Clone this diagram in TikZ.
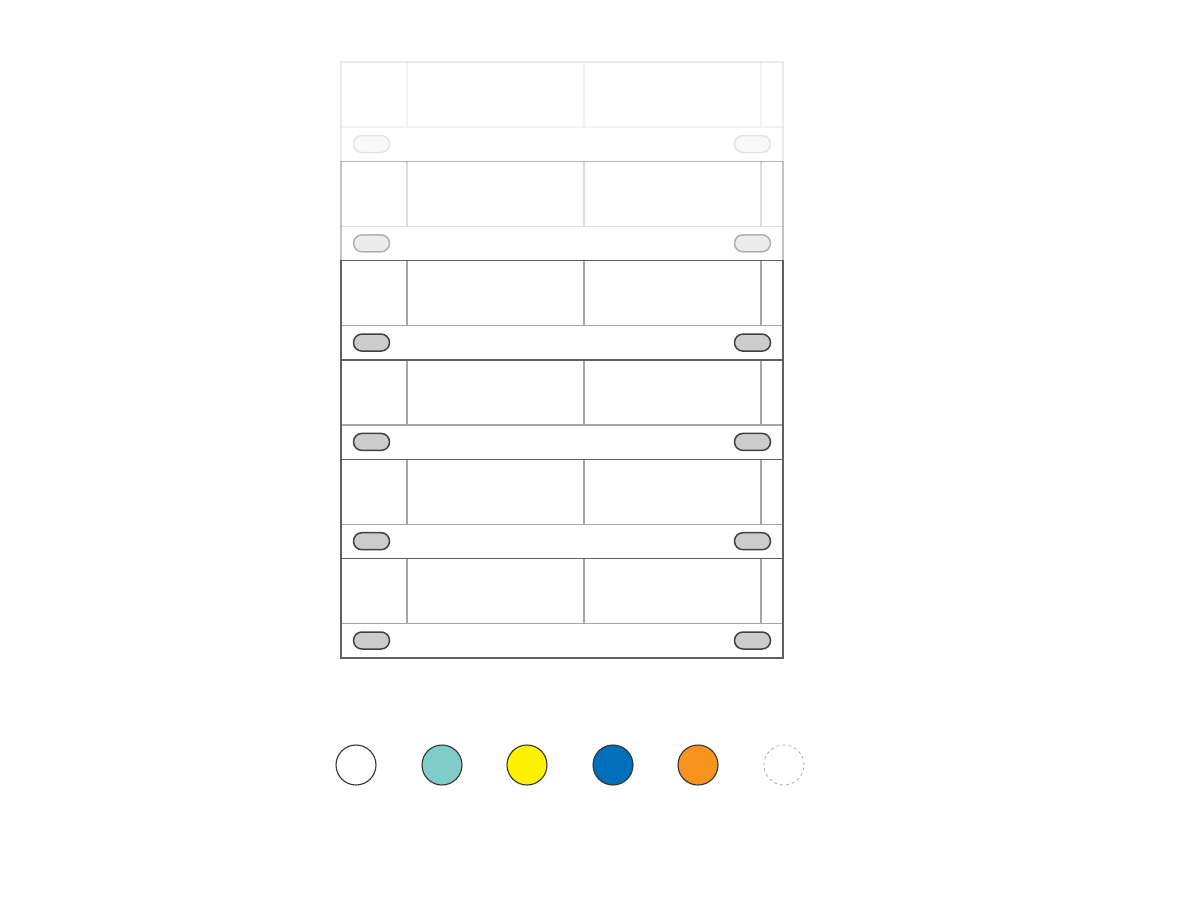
\documentclass[tikz,border=0pt]{standalone}
\definecolor{rackline}{RGB}{95,95,95}
\definecolor{rackinner}{RGB}{165,165,165}
\definecolor{slotfill}{RGB}{204,204,204}
\definecolor{swteal}{RGB}{127,205,200}
\definecolor{swyellow}{RGB}{255,242,0}
\definecolor{swblue}{RGB}{0,112,187}
\definecolor{sworange}{RGB}{247,148,29}
\tikzset{
  unitframe/.style={draw=rackline, line width=1.4pt},
  unitline/.style={draw=rackinner, line width=1.4pt},
  slot/.style={draw=black!75, fill=slotfill, line width=1.5pt, rounded corners=8.4pt},
  swatch/.style={circle, minimum size=40pt, inner sep=0pt, draw=black!80, line width=1.1pt}
}
\begin{document}
\begin{tikzpicture}[x=1pt, y=-1pt]
  \useasboundingbox (0,0) rectangle (1181,900);
  % rack units, top ones faded
  \foreach \u/\op in {0/0.13, 1/0.38, 2/1, 3/1, 4/1, 5/1} {
    \begin{scope}[shift={(0,\u*99.3)}, opacity=\op]
      \draw[unitline] (341,127) -- (783,127);
      \draw[unitline] (407,62) -- (407,127);
      \draw[unitline] (584,62) -- (584,127);
      \draw[unitline] (761,62) -- (761,127);
      \draw[unitframe] (341,62) rectangle (783,161.3);
      \draw[slot] (353.5,135.5) rectangle (389.5,152.5);
      \draw[slot] (734.5,135.5) rectangle (770.5,152.5);
    \end{scope}
  }
  % colour swatches
  \node[swatch, fill=white] (white) at (356,765) {};
  \node[swatch, fill=swteal] (teal) at (442,765) {};
  \node[swatch, fill=swyellow] (yellow) at (527,765) {};
  \node[swatch, fill=swblue] (blue) at (613,765) {};
  \node[swatch, fill=sworange] (orange) at (698,765) {};
  \node[swatch, draw=black!30, dashed, line width=0.9pt] (none) at (784,765) {};
\end{tikzpicture}
\end{document}
